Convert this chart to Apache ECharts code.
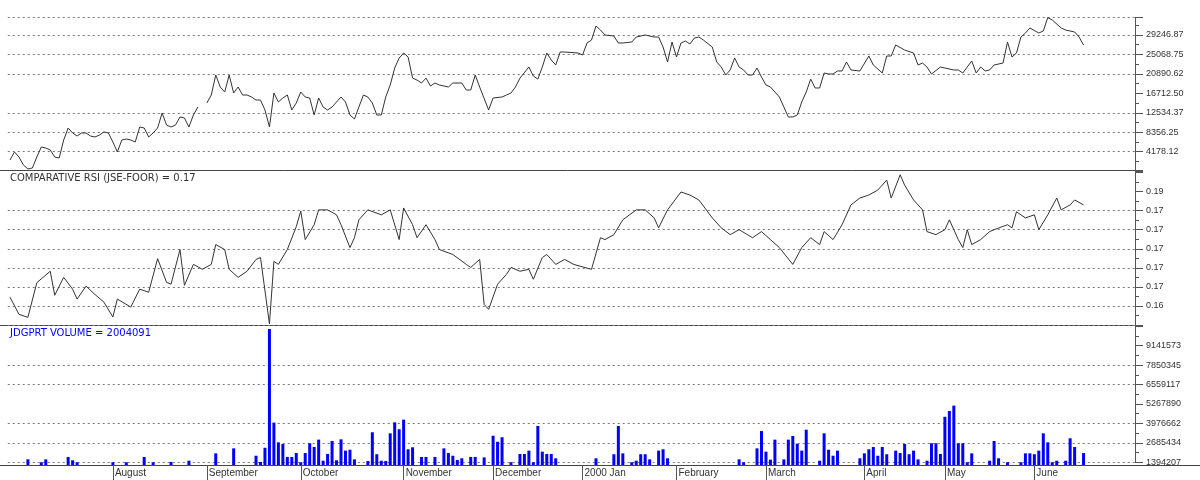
<!DOCTYPE html>
<html>
<head>
<meta charset="utf-8">
<script src="https://cdn.jsdelivr.net/npm/echarts@6/dist/echarts.min.js"></script>
<style>html,body{margin:0;background:#fff}#chart{width:1200px;height:480px}</style>
</head>
<body>
<div id="chart"></div>
<script>
// trading days per month on the category axis (July 1999 .. June 2000)
const monthLabels = ['', 'August', 'September', 'October', 'November', 'December', '2000 Jan', 'February', 'March', 'April', 'May', 'June'];
const monthDays = [23, 21, 21, 23, 20, 20, 21, 20, 22, 18, 20, 23];

// right axis tick labels
const priceLabels = ['4178.12', '8356.25', '12534.37', '16712.50', '20890.62', '25068.75', '29246.87'];
const rsiLabels = ['0.16', '0.17', '0.17', '0.17', '0.17', '0.17', '0.19'];
const volumeLabels = ['1394207', '2685434', '3976662', '5267890', '6559117', '7850345', '9141573'];

// [trading day, value]
const price = [[0,2395],[1,4113],[2,3039],[3,1321],[4,462],[5,677],[6,3039],[7,5187],[8,4972],[9,4543],[10,3039],[11,2825],[12,6691],[13,9269],[14,8195],[15,7550],[16,8195],[17,8195],[18,7550],[19,7335],[20,7765],[21,8410],[22,8195],[23,6261],[24,4113],[25,6691],[26,6906],[27,6691],[28,6261],[29,9484],[30,9269],[31,7335],[32,8195],[33,9269],[34,12491],[35,9914],[36,9484],[37,9914],[38,11633],[39,11418],[40,9484],[41,12062],[42,13781],[43,null],[44,14640],[45,16357],[46,20653],[47,18075],[48,16999],[49,20653],[50,16787],[51,18075],[52,16357],[53,16357],[54,15926],[55,15283],[56,15283],[57,13135],[58,9484],[59,16787],[60,14855],[61,15712],[62,16357],[63,13135],[64,14640],[65,16999],[66,15926],[67,15712],[68,12062],[69,15712],[70,13781],[71,13135],[72,13781],[74,15926],[75,14855],[76,12062],[77,11204],[78,13781],[79,16357],[80,15926],[81,14640],[82,12062],[83,12062],[84,15926],[85,18505],[86,22157],[87,24305],[88,25379],[89,24520],[90,19989],[91,19559],[92,18934],[93,19989],[94,18290],[95,18934],[96,18505],[98,18075],[99,18934],[101,18934],[102,17431],[103,17431],[104,20653],[105,18075],[107,13135],[108,15712],[110,15926],[111,16357],[112,16787],[113,18075],[114,19989],[116,22372],[117,20438],[118,19774],[119,22372],[120,25379],[121,23876],[122,22801],[123,25594],[124,25594],[127,25379],[128,24950],[129,27526],[130,28171],[131,31178],[132,30319],[133,29245],[135,29030],[136,27526],[137,27526],[139,27741],[140,28815],[142,29245],[144,28815],[145,28815],[146,26667],[147,23446],[148,27741],[149,24520],[150,27526],[151,27956],[152,27311],[153,28601],[154,28815],[155,28171],[157,26667],[158,23446],[159,22372],[160,20653],[161,21728],[162,24305],[163,22372],[164,21728],[165,20653],[166,20653],[167,22157],[168,20223],[169,18505],[170,18075],[172,15926],[173,13781],[174,11633],[175,11633],[176,12062],[177,14855],[178,16999],[179,19774],[180,17860],[181,17860],[182,21083],[183,20868],[184,20868],[185,21513],[186,21513],[187,23446],[188,21728],[190,21513],[192,24735],[193,22801],[195,21083],[196,24735],[197,24735],[198,27096],[200,26023],[202,25379],[203,22801],[204,23230],[205,22372],[206,20868],[208,22372],[209,22157],[211,21728],[212,21728],[213,21083],[215,23661],[216,21083],[217,22372],[218,21513],[219,21728],[220,22801],[222,23230],[223,27741],[224,24520],[225,25379],[226,28815],[227,29674],[228,30749],[230,29674],[231,30104],[232,33000],[233,32467],[235,30749],[236,30319],[238,29889],[239,28815],[240,27096]];

const rsi = [[0,0.1623],[2,0.1578],[4,0.1570],[6,0.1661],[9,0.1691],[10,0.1628],[12,0.1675],[14,0.1644],[15,0.1618],[17,0.1652],[19,0.1630],[21,0.1610],[23,0.1571],[24,0.1618],[27,0.1597],[29,0.1644],[31,0.1636],[33,0.1724],[35,0.1662],[36,0.1657],[38,0.1748],[39,0.1654],[41,0.1709],[43,0.1696],[45,0.1709],[46,0.1761],[48,0.1748],[49,0.1696],[51,0.1675],[53,0.1691],[55,0.1722],[56,0.1727],[58,0.1553],[59,0.1717],[60,0.1709],[62,0.1748],[64,0.1808],[65,0.1849],[66,0.1774],[68,0.1813],[69,0.1852],[71,0.1852],[73,0.1839],[74,0.1813],[76,0.1753],[77,0.1779],[78,0.1826],[80,0.1852],[83,0.1839],[85,0.1852],[87,0.1774],[88,0.1857],[90,0.1813],[91,0.1779],[93,0.1813],[95,0.1774],[96,0.1748],[99,0.1735],[102,0.1709],[103,0.1701],[105,0.1722],[106,0.1604],[107,0.1591],[109,0.1657],[111,0.1683],[112,0.1701],[114,0.1691],[116,0.1696],[117,0.1670],[119,0.1727],[120,0.1735],[122,0.1709],[124,0.1722],[126,0.1709],[130,0.1696],[132,0.1779],[133,0.1774],[135,0.1787],[137,0.1826],[140,0.1852],[142,0.1852],[144,0.1831],[145,0.1805],[147,0.1852],[150,0.1899],[152,0.1891],[154,0.1878],[157,0.1831],[159,0.1805],[161,0.1787],[163,0.1800],[166,0.1779],[168,0.1795],[170,0.1774],[172,0.1753],[175,0.1709],[177,0.1753],[179,0.1779],[181,0.1761],[182,0.1795],[184,0.1774],[186,0.1813],[188,0.1865],[190,0.1883],[192,0.1891],[194,0.1904],[196,0.1930],[197,0.1883],[199,0.1944],[200,0.1917],[202,0.1878],[204,0.1852],[205,0.1795],[207,0.1787],[209,0.1800],[210,0.1826],[212,0.1774],[213,0.1753],[214,0.1800],[215,0.1761],[217,0.1774],[219,0.1795],[220,0.1800],[223,0.1813],[224,0.1805],[225,0.1847],[227,0.1831],[229,0.1839],[230,0.1800],[232,0.1839],[234,0.1883],[235,0.1852],[237,0.1865],[238,0.1878],[240,0.1865]];

const volume = [[4,1590000],[7,1400000],[8,1590000],[13,1750000],[14,1530000],[15,1400000],[23,1400000],[26,1400000],[30,1750000],[32,1400000],[36,1420000],[40,1500000],[46,1990000],[50,2320000],[55,1830000],[56,1420000],[57,2360000],[58,10250000],[59,4030000],[60,2720000],[61,2610000],[62,1750000],[63,1750000],[64,2010000],[65,1400000],[66,2010000],[67,2660000],[68,2410000],[69,2900000],[70,1500000],[71,1950000],[72,2810000],[73,1530000],[74,2920000],[75,2170000],[76,2230000],[77,1590000],[80,1480000],[81,3390000],[82,1930000],[83,1500000],[84,1480000],[85,3320000],[86,4050000],[87,3590000],[88,4230000],[89,2260000],[90,2390000],[92,1750000],[93,1750000],[95,1750000],[97,2320000],[98,2010000],[99,1830000],[100,1550000],[101,1660000],[103,1750000],[104,1750000],[106,1720000],[108,3160000],[109,2760000],[110,3060000],[112,1400000],[114,1950000],[115,1950000],[116,2170000],[117,1400000],[118,3810000],[119,2100000],[120,1950000],[121,1950000],[122,1660000],[131,1660000],[135,1930000],[136,3810000],[137,1990000],[139,1400000],[140,1500000],[141,1930000],[142,1930000],[143,1590000],[145,2170000],[146,2260000],[147,1660000],[163,1590000],[164,1400000],[167,2320000],[168,3470000],[169,2100000],[170,1570000],[171,2900000],[173,1590000],[174,2900000],[175,3140000],[176,2630000],[177,2170000],[178,3560000],[181,1500000],[182,3320000],[183,2230000],[184,1830000],[185,2170000],[190,1660000],[191,1990000],[192,2260000],[193,2410000],[194,1830000],[195,2410000],[196,1930000],[198,2170000],[199,2010000],[200,2610000],[201,1930000],[202,2170000],[203,1590000],[205,1500000],[206,2660000],[207,2660000],[208,1950000],[209,4420000],[210,4800000],[211,5160000],[212,2660000],[213,2660000],[214,1400000],[215,1990000],[219,1500000],[220,2810000],[221,1660000],[223,1400000],[226,1400000],[227,1990000],[228,1990000],[229,1930000],[230,2170000],[231,3320000],[232,2720000],[233,1400000],[234,1500000],[236,1500000],[237,2990000],[238,2410000],[240,2010000]];

// build the day categories, remember where each month begins
var days = [];
var monthStart = {};
monthDays.forEach(function (n, m) {
  monthStart[days.length] = monthLabels[m];
  for (var d = 1; d <= n; d++) days.push(monthLabels[m] + ' ' + d);
});
var isMonthStart = function (i) { return !!monthStart[i]; };

var FONT = 'Liberation Sans';
var AXIS = '#555';
var G = '#777', N = 'rgba(0,0,0,0)';
var LEFT = 7.76, RIGHT = 65;

function labelFrom(labels, base, step) {
  return function (v) {
    var k = Math.round((v - base) / step);
    if (Math.abs(v - (base + k * step)) > step * 0.02) return '';
    return labels[k] || '';
  };
}

function rightAxis(grid, min, max, step, formatter, gridColors) {
  return {
    type: 'value', gridIndex: grid, position: 'right',
    min: min, max: max, interval: step,
    axisLine: { show: true, lineStyle: { color: AXIS } },
    axisTick: { show: true, length: 8, lineStyle: { color: AXIS } },
    minorTick: { show: true, splitNumber: 2, length: 4, lineStyle: { color: AXIS } },
    axisLabel: { margin: 11, fontSize: 9, color: '#333', fontFamily: FONT, formatter: formatter },
    splitLine: { show: true, lineStyle: { color: gridColors, type: [2, 3], width: 1 } }
  };
}

function dayAxis(grid, visible, offset) {
  return {
    type: 'category', gridIndex: grid, data: days, boundaryGap: true,
    offset: offset || 0,
    axisLine: { show: false },
    axisTick: { show: visible, alignWithLabel: true, interval: isMonthStart, length: 15, lineStyle: { color: AXIS } },
    axisLabel: {
      show: visible, interval: isMonthStart, align: 'left', margin: 3, padding: [0, 0, 0, 2],
      fontSize: 10, color: '#333', fontFamily: FONT,
      formatter: function (v) { return v.replace(/ \d+$/, ''); }
    },
    splitLine: { show: false }
  };
}

var chart = echarts.init(document.getElementById('chart'));
chart.setOption({
  animation: false,
  backgroundColor: '#fff',
  title: [
    { text: 'COMPARATIVE RSI (JSE-FOOR) = 0.17', left: 10, top: 173, padding: 0,
      textStyle: { fontSize: 10, fontWeight: 'normal', color: '#333', fontFamily: 'DejaVu Sans' } },
    { text: 'JDGPRT VOLUME = 2004091', left: 10, top: 328, padding: 0,
      textStyle: { fontSize: 10, fontWeight: 'normal', color: '#0000ff', fontFamily: 'DejaVu Sans' } }
  ],
  grid: [
    { left: LEFT, right: RIGHT, top: 17.3, height: 153.85 },
    { left: LEFT, right: RIGHT, top: 170, height: 155 },
    // volume scale with its labels
    { left: LEFT, right: RIGHT, top: 325, height: 137.3 },
    // same volume scale, reaching down to the date axis so the bars sit on it
    { left: LEFT, right: RIGHT, top: 325, height: 140 }
  ],
  xAxis: [dayAxis(0, false), dayAxis(1, false), dayAxis(2, true, 2.7), dayAxis(3, false)],
  yAxis: [
    rightAxis(0, 0, 33048, 4178.125, labelFrom(priceLabels, 4178.125, 4178.125), [N, G, G, G, N, G, G, G, G]),
    rightAxis(1, 0.155, 0.19566, 0.005, labelFrom(rsiLabels, 0.16, 0.005), [N, G, G, G, G, G, G, N, N]),
    rightAxis(2, 1394207, 10517000, 1291227.5, labelFrom(volumeLabels, 1394207, 1291227.5), [G, G, G, N, G, G, N, N]),
    { type: 'value', gridIndex: 3, position: 'right', min: 1214800, max: 10517000, show: false }
  ],
  graphic: [
    { type: 'line', shape: { x1: 0, y1: 170.5, x2: 1135, y2: 170.5 }, style: { stroke: '#444', lineWidth: 1 } },
    { type: 'line', shape: { x1: 0, y1: 325.5, x2: 1135, y2: 325.5 }, style: { stroke: '#444', lineWidth: 1 } },
    { type: 'line', shape: { x1: 0, y1: 465.5, x2: 1200, y2: 465.5 }, style: { stroke: '#444', lineWidth: 1 } }
  ],
  series: [
    { name: 'Price', type: 'line', xAxisIndex: 0, yAxisIndex: 0, data: price, symbol: 'none',
      lineStyle: { color: '#333', width: 1 } },
    { name: 'RSI', type: 'line', xAxisIndex: 1, yAxisIndex: 1, data: rsi, symbol: 'none',
      lineStyle: { color: '#333', width: 1 } },
    { name: 'Volume', type: 'bar', xAxisIndex: 3, yAxisIndex: 3, data: volume, barWidth: 3,
      itemStyle: { color: '#0000ff' } }
  ]
});
</script>
</body>
</html>
